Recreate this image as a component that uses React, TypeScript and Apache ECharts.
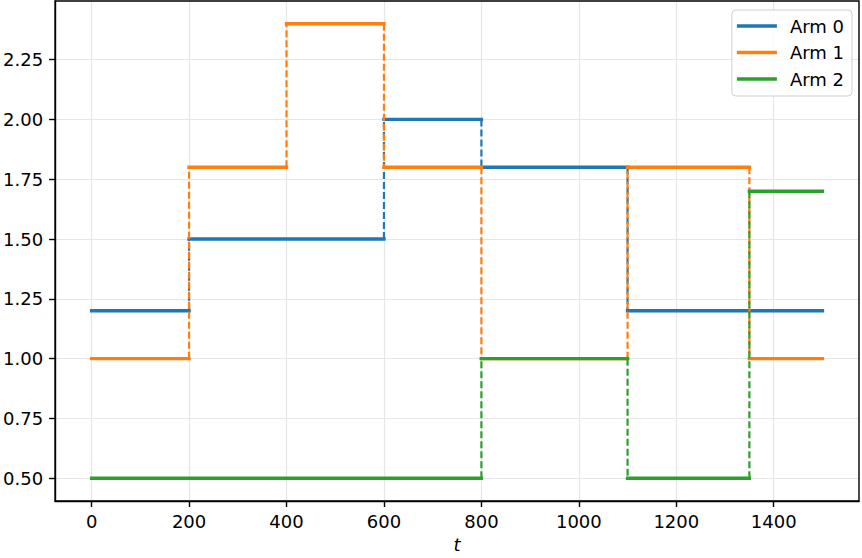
import React, { useEffect, useRef } from "react";
import * as echarts from "echarts";

// Step boundaries on t
const tBreaks = [0, 200, 400, 600, 800, 1100, 1350, 1500];
// Value of each arm on each interval [tBreaks[i], tBreaks[i+1])
const arm0Values = [1.2, 1.5, 1.5, 2.0, 1.8, 1.2, 1.2];
const arm1Values = [1.0, 1.8, 2.4, 1.8, 1.0, 1.8, 1.0];
const arm2Values = [0.5, 0.5, 0.5, 0.5, 1.0, 0.5, 1.7];

const armNames = ["Arm 0", "Arm 1", "Arm 2"];
const armColors = ["#1f77b4", "#ff7f0e", "#2ca02c"];

const xTicks = [0, 200, 400, 600, 800, 1000, 1200, 1400];
const yTicks = [0.5, 0.75, 1.0, 1.25, 1.5, 1.75, 2.0, 2.25];

const FONT = "DejaVu Sans";

function horizontalSegments(values: number[]) {
  const out: any[] = [];
  values.forEach((v, i) => {
    if (i > 0) out.push([tBreaks[i], null]);
    out.push([tBreaks[i], v]);
    out.push([tBreaks[i + 1], v]);
  });
  return out;
}

function verticalSegments(values: number[]) {
  const out: any[] = [];
  for (let i = 1; i < values.length; i++) {
    if (values[i] !== values[i - 1]) {
      if (out.length) out.push([tBreaks[i], null]);
      out.push([tBreaks[i], values[i - 1]]);
      out.push([tBreaks[i], values[i]]);
    }
  }
  return out;
}

const labelStyle = {
  fontFamily: FONT,
  fontSize: 18,
  color: "#000",
};

export default function App() {
  const ref = useRef<HTMLDivElement>(null);

  useEffect(() => {
    if (!ref.current) return;
    const chart = echarts.init(ref.current, undefined, { renderer: "svg" });
    const allValues = [arm0Values, arm1Values, arm2Values];
    const series: any[] = [];
    allValues.forEach((vals, k) => {
      series.push({
        name: armNames[k],
        type: "line",
        data: horizontalSegments(vals),
        symbol: "none",
        connectNulls: false,
        lineStyle: { color: armColors[k], width: 3.4, cap: "square" },
        itemStyle: { color: armColors[k] },
        z: 2 + k,
      });
      series.push({
        name: armNames[k],
        type: "line",
        data: verticalSegments(vals),
        symbol: "none",
        connectNulls: false,
        lineStyle: { color: armColors[k], width: 2.2, type: [7, 3], cap: "butt" },
        itemStyle: { color: armColors[k] },
        z: 2 + k,
      });
    });

    chart.setOption({
      animation: false,
      backgroundColor: "#ffffff",
      textStyle: { fontFamily: FONT, color: "#000", fontSize: 18 },
      grid: {
        left: 54,
        right: 3,
        top: 1,
        bottom: 56,
        show: true,
        borderColor: "#000",
        borderWidth: 1.4,
        backgroundColor: "transparent",
        z: 10,
      },
      legend: {
        data: armNames,
        orient: "vertical",
        right: 10,
        top: 10,
        icon: "rect",
        itemWidth: 40,
        itemHeight: 3.4,
        itemGap: 6.5,
        padding: [6, 8, 7, 5],
        backgroundColor: "rgba(255,255,255,0.8)",
        borderColor: "#d0d0d0",
        borderWidth: 1,
        borderRadius: 4,
        textStyle: {
          ...labelStyle,
          lineHeight: 20,
          padding: [0, 0, 0, 8],
        },
      },
      xAxis: {
        type: "value",
        min: -75,
        max: 1575,
        name: "t",
        nameLocation: "middle",
        nameGap: 34,
        nameTextStyle: { ...labelStyle, fontStyle: "italic" },
        axisLine: { show: true, onZero: false, lineStyle: { color: "#000", width: 1.4 } },
        axisTick: {
          show: true,
          length: 6,
          customValues: xTicks,
          lineStyle: { color: "#000", width: 1.4 },
        },
        axisLabel: {
          ...labelStyle,
          customValues: xTicks,
          margin: 11,
          formatter: (v: number) => String(v),
        },
        splitLine: { show: true, lineStyle: { color: "#e6e6e6", width: 1.2 } },
      },
      yAxis: {
        type: "value",
        min: 0.405,
        max: 2.495,
        axisLine: { show: true, onZero: false, lineStyle: { color: "#000", width: 1.4 } },
        axisTick: {
          show: true,
          length: 6,
          customValues: yTicks,
          lineStyle: { color: "#000", width: 1.4 },
        },
        axisLabel: {
          ...labelStyle,
          customValues: yTicks,
          margin: 12,
          formatter: (v: number) => v.toFixed(2),
        },
        splitLine: { show: true, lineStyle: { color: "#e6e6e6", width: 1.2 } },
      },
      series,
    });
    return () => chart.dispose();
  }, []);

  return (
    <div
      ref={ref}
      style={{ position: "absolute", left: 0, top: 0, width: 862, height: 558 }}
    />
  );
}
